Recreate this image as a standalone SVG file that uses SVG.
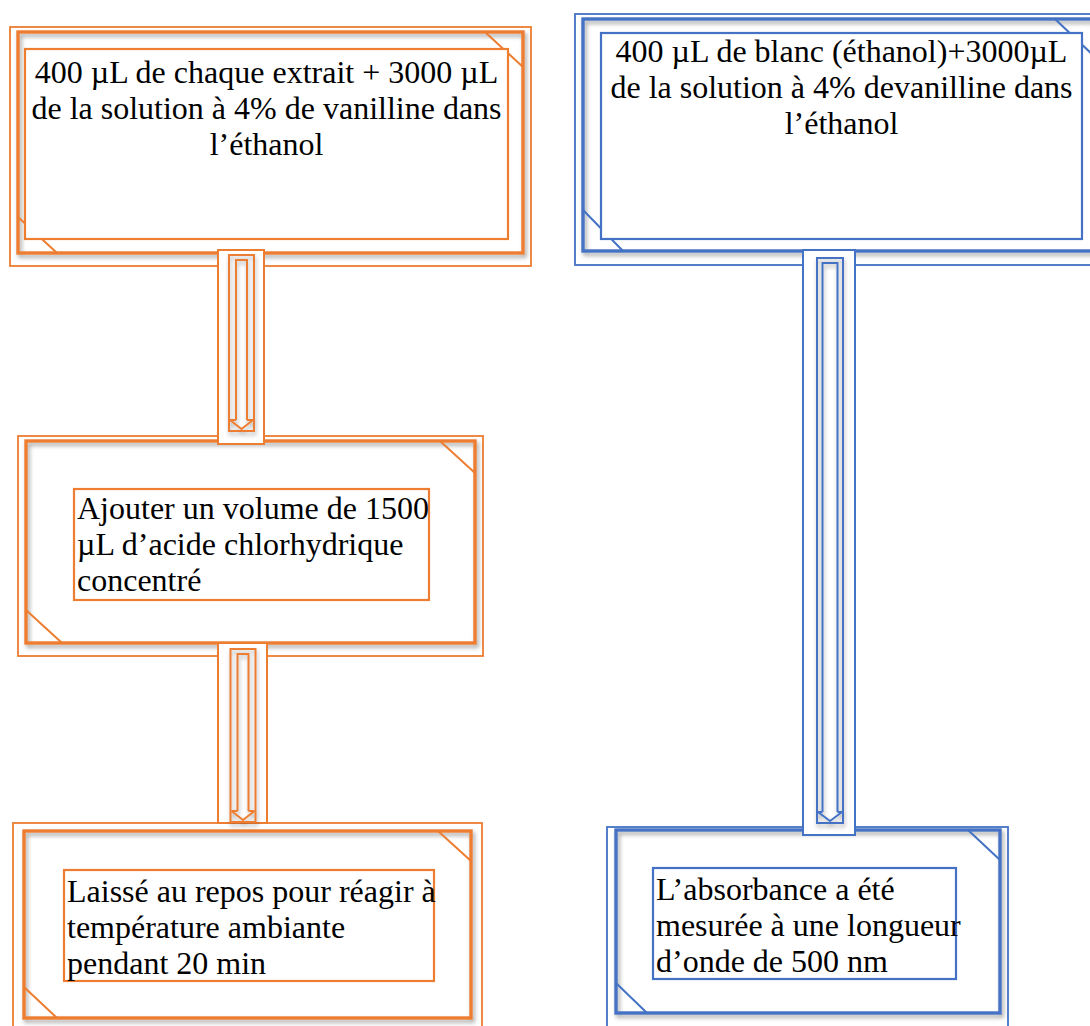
<svg xmlns="http://www.w3.org/2000/svg" width="1090" height="1026" viewBox="0 0 1090 1026">
<defs>
<filter id="sh" x="-5%" y="-5%" width="115%" height="115%">
<feDropShadow dx="2" dy="3" stdDeviation="2" flood-color="#000" flood-opacity="0.35"/>
</filter>
<filter id="ash" x="-50%" y="-5%" width="200%" height="115%">
<feDropShadow dx="1" dy="3" stdDeviation="2" flood-color="#000" flood-opacity="0.3"/>
</filter>
</defs>
<style>
.o{stroke:#ED7D31}
.b{stroke:#4472C4}
.outer{fill:none;stroke-width:1.8}
.frame{fill:none;stroke-width:3.4}
.diag{fill:none;stroke-width:2}
.inner{fill:#fff;stroke-width:2.2}
.abox{fill:#fff;stroke-width:2}
.arr{fill:none;stroke-width:2}
.t{font-family:"Liberation Serif","Times New Roman",serif;font-size:32px;fill:#000}
.c{text-anchor:middle}
</style>
<rect width="1090" height="1026" fill="#fff"/>

<g id="node1">
<rect class="o outer" x="10" y="27" width="521" height="239"/>
<rect class="o frame" x="18" y="32" width="505" height="221" filter="url(#sh)"/>
<path class="o diag" d="M485,32 L523,67 M18,217 L57,253"/>
<rect class="o inner" x="25" y="49" width="483" height="190"/>
<text class="t c" x="266.5" y="83">400 µL de chaque extrait + 3000 µL</text>
<text class="t c" x="266.5" y="119">de la solution à 4% de vanilline dans</text>
<text class="t c" x="266.5" y="155">l’éthanol</text>
</g>

<g id="node2">
<rect class="o outer" x="18" y="436" width="465" height="220"/>
<rect class="o frame" x="26" y="441" width="449" height="202" filter="url(#sh)"/>
<path class="o diag" d="M440,441 L475,473 M26,610 L62,643"/>
<rect class="o inner" x="74" y="489" width="355" height="111"/>
<text class="t" x="77" y="519">Ajouter un volume de 1500</text>
<text class="t" x="77" y="555">µL d’acide chlorhydrique</text>
<text class="t" x="77" y="591">concentré</text>
</g>

<g id="node3">
<rect class="o outer" x="13" y="823" width="469" height="220"/>
<rect class="o frame" x="24" y="831" width="447" height="187" filter="url(#sh)"/>
<path class="o diag" d="M438,831 L471,861 M24,987 L57,1018"/>
<rect class="o inner" x="64" y="870" width="370" height="111"/>
<text class="t" x="67" y="902">Laissé au repos pour réagir à</text>
<text class="t" x="67" y="938">température ambiante</text>
<text class="t" x="67" y="974">pendant 20 min</text>
</g>

<g id="node4">
<rect class="b outer" x="575" y="14" width="530" height="251"/>
<rect class="b frame" x="583" y="19" width="512" height="232" filter="url(#sh)"/>
<path class="b diag" d="M1055,19 L1095,57 M583,210 L623,251"/>
<rect class="b inner" x="601" y="33" width="481" height="206"/>
<text class="t c" x="841.5" y="62">400 µL de blanc (éthanol)+3000µL</text>
<text class="t c" x="841.5" y="98">de la solution à 4% devanilline dans</text>
<text class="t c" x="841.5" y="134">l’éthanol</text>
</g>

<g id="node5">
<rect class="b outer" x="607" y="827" width="401" height="220"/>
<rect class="b frame" x="616" y="830" width="384" height="183" filter="url(#sh)"/>
<path class="b diag" d="M968,830 L1000,860 M616,983 L647,1013"/>
<rect class="b inner" x="653" y="868" width="303" height="111"/>
<text class="t" x="656" y="900">L’absorbance a été</text>
<text class="t" x="656" y="936">mesurée à une longueur</text>
<text class="t" x="656" y="972">d’onde de 500 nm</text>
</g>

<g id="connectors">
<g id="arrow1">
<rect class="o abox" x="218" y="250" width="46" height="194"/>
<g filter="url(#ash)">
<rect class="o arr" x="229" y="255" width="25" height="176"/>
<path class="o arr" d="M236,420 V260 H247 V420 M230,420 H236 M247,420 H253 M230,420 L241.5,429 L253,420"/>
</g>
</g>
<g id="arrow2">
<rect class="o abox" x="218" y="643" width="49" height="180"/>
<g filter="url(#ash)">
<rect class="o arr" x="230.5" y="649" width="25" height="173"/>
<path class="o arr" d="M237.5,811 V654 H248.5 V811 M231.5,811 H237.5 M248.5,811 H254.5 M231.5,811 L243,820 L254.5,811"/>
</g>
</g>
<g id="arrow3">
<rect class="b abox" x="803" y="250" width="52" height="585"/>
<g filter="url(#ash)">
<rect class="b arr" x="817" y="258" width="26" height="565"/>
<path class="b arr" d="M822.5,812 V263 H837.5 V812 M818,812 H822.5 M837.5,812 H842 M818,812 L830,821 L842,812"/>
</g>
</g>
</g>
</svg>
